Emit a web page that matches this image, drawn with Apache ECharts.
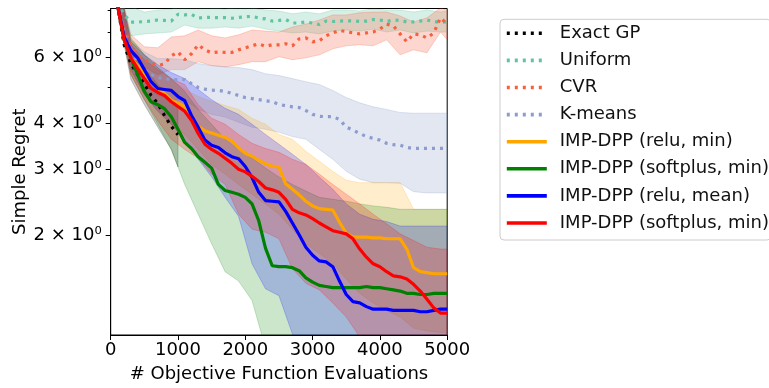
<!DOCTYPE html>
<html><head><meta charset="utf-8">
<script src="https://cdn.jsdelivr.net/npm/echarts@6/dist/echarts.min.js"></script>
<style>html,body{margin:0;padding:0;background:#fff}#c{width:769px;height:388px}</style>
</head><body><div id="c"></div>
<script>
// ---- data ----
const xs = [100,200,300,400,500,600,700,800,900,1000,1100,1200,1300,1400,1500,1600,1700,1800,1900,2000,2100,2200,2300,2400,2500,2600,2700,2800,2900,3000,3100,3200,3300,3400,3500,3600,3700,3800,3900,4000,4100,4200,4300,4400,4500,4600,4700,4800,4900,5000];
const xsGP = [100,200,300,400,500,600,700,800,900,1000];
const bandX = [100,300,500,700,900,1100,1300,1500,1700,1900,2100,2300,2500,2700,2900,3100,3300,3500,3700,3900,4100,4300,4500,4700,4900,5000];
const bandXGP = [100,300,500,700,900,1000];

const exactGP = [8.3,6.48,5.77,5.39,5.1,4.74,4.51,4.19,3.92,3.72];
const exactGPLo = [8.0,5.23,4.48,3.9,3.4,3.05];
const exactGPHi = [9.8,6.2,5.63,5.07,4.62,4.35];

const uniform = [8.4,7.8,7.45,7.45,7.48,7.50,7.55,7.53,7.5,7.82,7.79,7.82,7.64,7.67,7.67,7.66,7.66,7.63,7.67,7.7,7.72,7.64,7.6,7.5,7.53,7.57,7.41,7.41,7.46,7.41,7.34,7.5,7.48,7.5,7.51,7.51,7.48,7.5,7.57,7.55,7.48,7.55,7.53,7.46,7.46,7.5,7.55,7.48,7.44,7.46];
const uniformLo = [8.2,6.85,6.93,6.97,7.01,7.32,7.18,7.18,7.23,7.18,7.27,7.14,7.05,6.97,7.01,6.93,7.05,7.1,7.05,7.14,7.01,7.1,6.97,7.05,7.01,7.01];
const uniformHi = [9.8,8.2,7.93,8.03,8.08,8.23,8.23,8.13,8.08,8.18,8.13,8.03,7.98,7.84,7.93,7.84,8.03,8.03,7.98,8.08,8.03,8.03,7.93,8.03,7.93,7.98];

const cvr = [8.3,7.1,6.48,6.09,5.91,5.8,5.7,5.76,6.05,6.2,5.91,6.13,6.48,6.28,6.17,6.2,6.18,6.18,6.28,6.36,6.44,6.52,6.42,6.48,6.48,6.52,6.44,6.72,6.76,6.6,6.64,6.85,6.97,7.08,7.03,6.97,6.93,6.97,7.01,7.14,7.36,7.28,6.93,6.6,6.93,6.89,6.76,6.97,7.65,7.36];
const cvrLo = [8.2,6.1,5.65,5.39,5.56,5.56,5.84,5.7,5.65,5.73,5.84,5.84,6.02,5.91,5.98,6.09,6.32,6.44,6.48,6.44,6.68,6.09,6.28,6.17,7.01,6.68];
const cvrHi = [9.8,6.9,6.4,6.36,6.8,6.85,7.1,6.85,6.76,6.89,7.1,7.05,7.01,7.23,7.36,7.55,7.79,7.79,7.89,7.93,7.93,7.74,7.46,7.65,8.13,8.03];

const kmeans = [8.3,6.89,6.2,5.84,5.56,5.39,5.29,5.26,5.23,5.23,5.23,5.1,4.98,4.93,4.90,4.89,4.86,4.80,4.74,4.68,4.65,4.62,4.59,4.56,4.49,4.45,4.42,4.40,4.32,4.22,4.17,4.16,4.16,4.09,3.90,3.83,3.75,3.68,3.64,3.60,3.53,3.50,3.49,3.44,3.42,3.42,3.42,3.42,3.42,3.42];
const kmeansLo = [8.2,5.73,5.07,4.74,4.62,4.62,4.35,4.22,4.15,4.02,3.9,3.85,3.78,3.68,3.62,3.40,3.20,2.97,2.83,2.77,2.77,2.76,2.62,2.60,2.60,2.60];
const kmeansHi = [9.8,6.68,6.2,5.95,5.95,5.91,5.77,5.7,5.66,5.63,5.56,5.42,5.36,5.26,5.16,5.07,4.89,4.68,4.53,4.42,4.35,4.27,4.25,4.25,4.25,4.25];

const reluMin = [8.3,6.76,5.98,5.69,5.42,5.16,4.95,4.80,4.60,4.52,4.43,4.17,3.92,3.81,3.76,3.71,3.66,3.58,3.43,3.32,3.26,3.18,3.11,3.07,3.05,2.75,2.66,2.57,2.47,2.40,2.36,2.35,2.34,2.17,2.03,1.98,1.98,1.98,1.97,1.97,1.96,1.96,1.96,1.84,1.64,1.60,1.59,1.58,1.58,1.58];
const reluMinLo = [8.0,5.49,4.77,4.35,3.97,3.73,3.40,3.10,2.92,2.74,2.58,2.43,2.28,2.08,1.90,1.79,1.68,1.53,1.40,1.32,1.26,1.21,1.13,1.11,1.10,1.10];
const reluMinHi = [9.8,6.68,6.09,5.63,5.23,4.92,4.71,4.57,4.46,4.35,4.12,3.97,3.73,3.62,3.36,3.16,2.97,2.81,2.77,2.77,2.77,2.77,2.35,2.35,2.35,2.35];

const softMinA = [8.3,6.68,5.98,5.39,4.86,4.56,4.48,4.37,4.16,3.85,3.55,3.42,3.25,3.14,3.03,2.74,2.64,2.61,2.58,2.53,2.43,2.19,1.85,1.66,1.65,1.65,1.64,1.61,1.54,1.50,1.47,1.46,1.45,1.45,1.45,1.45,1.45,1.46,1.45,1.45,1.44,1.43,1.42,1.40,1.40,1.39,1.39,1.40,1.40,1.40];
const softMinALo = [8.0,5.39,4.62,3.97,3.40,2.74,2.28,1.90,1.60,1.51,1.34,1.00,0.83,0.73,0.73,0.73,0.73,0.73,0.73,0.73,0.73,0.73,0.73,0.73,0.73,0.73];
const softMinAHi = [9.8,6.76,6.09,5.63,5.26,4.86,4.35,3.97,3.62,3.40,3.22,3.03,2.87,2.74,2.63,2.53,2.50,2.47,2.43,2.40,2.38,2.35,2.35,2.35,2.35,2.35];

const reluMean = [8.3,6.8,6.25,5.98,5.56,5.16,4.95,4.92,4.89,4.71,4.59,4.19,3.90,3.60,3.49,3.44,3.33,3.25,3.21,3.06,2.86,2.61,2.48,2.47,2.46,2.32,2.16,2.01,1.86,1.77,1.71,1.70,1.65,1.51,1.39,1.33,1.32,1.29,1.27,1.27,1.27,1.26,1.26,1.26,1.26,1.25,1.25,1.26,1.27,1.27];
const reluMeanLo = [8.0,5.56,4.77,4.3,3.97,3.62,3.20,2.87,2.53,2.25,1.68,1.44,1.38,1.09,1.00,0.94,0.89,0.83,0.81,0.79,0.79,0.79,0.79,0.79,0.79,0.79];
const reluMeanHi = [9.8,6.6,6.09,5.73,5.46,5.26,4.92,4.62,4.38,4.22,3.97,3.73,3.51,3.30,3.10,2.87,2.66,2.43,2.28,2.21,2.18,2.12,2.12,2.12,2.12,2.12];

const softMinB = [8.3,6.68,5.98,5.6,5.26,4.95,4.83,4.74,4.56,4.43,4.30,4.07,3.75,3.51,3.40,3.32,3.22,3.12,3.01,2.96,2.88,2.79,2.68,2.65,2.61,2.50,2.35,2.30,2.27,2.22,2.16,2.11,2.06,2.04,2.02,1.96,1.84,1.75,1.68,1.65,1.60,1.56,1.55,1.53,1.48,1.42,1.35,1.28,1.24,1.24];
const softMinBLo = [8.0,5.39,4.62,4.06,3.62,3.40,3.22,2.92,2.74,2.28,2.08,2.04,1.96,1.63,1.49,1.43,1.32,1.21,1.07,1.00,0.94,0.92,0.89,0.83,0.81,0.81];
const softMinBHi = [9.8,6.48,5.91,5.56,5.26,5.07,4.48,4.12,3.97,3.73,3.53,3.42,3.34,3.20,3.10,2.92,2.74,2.58,2.43,2.28,2.15,2.02,1.94,1.86,1.84,1.84];

const yTickLabels = [2,3,4,6];
const yMinorTicks = [5,7,8];
const names = ['Exact GP','Uniform','CVR','K-means','IMP-DPP (relu, min)','IMP-DPP (softplus, min)','IMP-DPP (relu, mean)','IMP-DPP (softplus, min) '];

// ---- chart ----
const FONT = 'DejaVu Sans';
function band(xArr, lo, hi, fill) {
  return {
    type: 'custom', silent: true, z: 1, animation: false,
    data: xArr.map((x, i) => [x, lo[i], hi[i]]),
    encode: { x: 0, y: [1, 2] },
    renderItem: function (params, api) {
      if (params.dataIndex !== 0) return null;
      const pts = [];
      for (let i = 0; i < xArr.length; i++) pts.push(api.coord([xArr[i], hi[i]]));
      for (let i = xArr.length - 1; i >= 0; i--) pts.push(api.coord([xArr[i], lo[i]]));
      const cs = params.coordSys;
      return {
        type: 'polygon', shape: { points: pts },
        style: { fill: fill, stroke: fill, lineWidth: 1 },
        clipPath: { type: 'rect', shape: { x: cs.x, y: cs.y, width: cs.width, height: cs.height } }
      };
    }
  };
}
function line(name, xArr, yArr, color, dotted) {
  return {
    type: 'line', name: name, z: 3, animation: false,
    data: xArr.map((x, i) => [x, yArr[i]]),
    symbol: 'none', showSymbol: false, clip: true,
    itemStyle: { color: color },
    lineStyle: { color: color, width: 3.2, type: dotted ? [3, 5] : 'solid' }
  };
}
const C = {
  gp: '#000000', uni: '#5fc4a0', cvr: '#f7603e', km: '#8d9bd0',
  o: '#ffa500', g: '#008000', b: '#0000ff', r: '#ff0000'
};
const option = {
  backgroundColor: '#fff',
  animation: false,
  grid: { left: 110.7, top: 8.5, width: 336.5, height: 328.2, show: true, borderColor: '#000', borderWidth: 1, backgroundColor: 'rgba(0,0,0,0)' },
  xAxis: {
    type: 'value', min: 0, max: 5000, interval: 1000,
    axisLine: { show: true, lineStyle: { color: '#000', width: 1 } },
    axisTick: { show: true, inside: false, length: 5, lineStyle: { color: '#000' } },
    axisLabel: { fontFamily: FONT, fontSize: 18, color: '#000', margin: 6, formatter: v => String(v) },
    splitLine: { show: false },
    name: '# Objective Function Evaluations', nameLocation: 'middle', nameGap: 30,
    nameTextStyle: { fontFamily: FONT, fontSize: 18, color: '#000' }
  },
  yAxis: [{
    type: 'log', logBase: 10, min: 1.083, max: 8.104,
    axisLine: { show: true, lineStyle: { color: '#000', width: 1 } },
    axisTick: { show: true, inside: false, length: 5, customValues: yTickLabels, lineStyle: { color: '#000' } },
    axisLabel: { customValues: yTickLabels, fontFamily: FONT, fontSize: 18, color: '#000', margin: 9,
      formatter: v => Math.round(v) + ' × 10⁰' },
    splitLine: { show: false },
    name: 'Simple Regret', nameLocation: 'middle', nameGap: 80,
    nameTextStyle: { fontFamily: FONT, fontSize: 18, color: '#000' }
  }, {
    type: 'log', logBase: 10, min: 1.083, max: 8.104, position: 'left',
    axisLine: { show: false },
    axisTick: { show: true, inside: false, length: 3, customValues: yMinorTicks, lineStyle: { color: '#000' } },
    axisLabel: { show: false },
    splitLine: { show: false }
  }],
  legend: {
    data: names, orient: 'vertical', left: 500, top: 19.3,
    padding: [5, 2, 8, 5], itemWidth: 40, itemHeight: 14, itemGap: 9.1,
    itemStyle: { opacity: 0 },
    lineStyle: { width: 3.6 },
    backgroundColor: '#fff', borderColor: '#ccc', borderWidth: 1, borderRadius: 4,
    selectedMode: false,
    formatter: n => n.trim(),
    textStyle: { fontFamily: FONT, fontSize: 18, color: '#111', padding: [0, 0, 0, 8] }
  },
  series: [
    band(bandXGP, exactGPLo, exactGPHi, 'rgba(0,0,0,0.2)'),
    band(bandX, uniformLo, uniformHi, 'rgba(95,196,160,0.25)'),
    band(bandX, cvrLo, cvrHi, 'rgba(247,96,62,0.25)'),
    band(bandX, kmeansLo, kmeansHi, 'rgba(141,160,203,0.25)'),
    band(bandX, reluMinLo, reluMinHi, 'rgba(255,165,0,0.2)'),
    band(bandX, softMinALo, softMinAHi, 'rgba(0,128,0,0.2)'),
    band(bandX, reluMeanLo, reluMeanHi, 'rgba(0,0,255,0.2)'),
    band(bandX, softMinBLo, softMinBHi, 'rgba(255,0,0,0.2)'),
    line(names[0], xsGP, exactGP, C.gp, true),
    line(names[1], xs, uniform, C.uni, true),
    line(names[2], xs, cvr, C.cvr, true),
    line(names[3], xs, kmeans, C.km, true),
    line(names[4], xs, reluMin, C.o, false),
    line(names[5], xs, softMinA, C.g, false),
    line(names[6], xs, reluMean, C.b, false),
    line(names[7], xs, softMinB, C.r, false)
  ]
};
const chart = echarts.init(document.getElementById('c'), null, { renderer: 'canvas' });
chart.setOption(option);
</script>
</body></html>
